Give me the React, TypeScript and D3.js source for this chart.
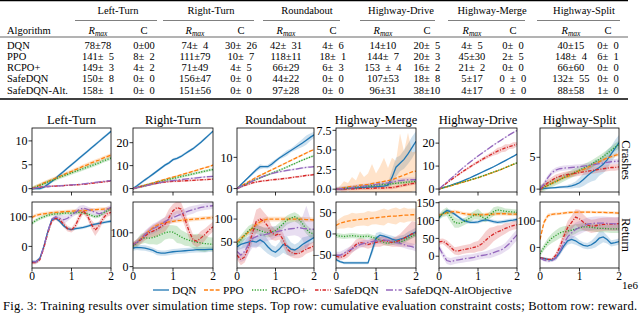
import React from 'react';
import * as d3 from 'd3';

// time axis (x 1e6 steps)
const steps = [0, 0.1, 0.2, 0.3, 0.4, 0.5, 0.6, 0.7, 0.8, 0.9, 1.0, 1.1, 1.2, 1.3, 1.4, 1.5, 1.6, 1.7, 1.8, 1.9, 2.0];

// ---- table data ----
const algorithms = ['DQN', 'PPO', 'RCPO+', 'SafeDQN', 'SafeDQN-Alt.'];
const tableEnvs = ['Left-Turn', 'Right-Turn', 'Roundabout', 'Highway-Drive', 'Highway-Merge', 'Highway-Split'];
const tableRows = [
  ['78±78', '0±00', '74± 4', '30± 26', '42± 31', '4± 6', '14±10', '20± 5', '4± 5', '0± 0', '40±15', '0± 0'],
  ['141± 5', '8± 2', '111±79', '10± 7', '118±11', '18± 1', '144± 7', '20± 3', '45±30', '2± 5', '148± 4', '6± 1'],
  ['149± 3', '4± 2', '71±49', '4± 5', '66±29', '6± 3', '153 ± 4', '16± 2', '21± 2', '0± 0', '66±60', '0± 0'],
  ['150± 8', '0± 0', '156±47', '0± 0', '44±22', '0± 0', '107±53', '18± 8', '5±17', '0 ± 0', '132± 55', '0± 0'],
  ['158± 1', '0± 0', '151±56', '0± 0', '97±28', '0± 0', '96±31', '38±10', '4±17', '0 ± 0', '88±58', '1± 0'],
];

// ---- plot data ----
const envNames = ['Left-Turn', 'Right-Turn', 'Roundabout', 'Highway-Merge', 'Highway-Drive', 'Highway-Split'];

const series = [
  { key: 'DQN', label: 'DQN', color: '#1f77b4', dash: undefined },
  { key: 'PPO', label: 'PPO', color: '#ff7f0e', dash: '4,1.8' },
  { key: 'RCPO', label: 'RCPO+', color: '#2ca02c', dash: '1.2,1.5' },
  { key: 'Safe', label: 'SafeDQN', color: '#d62728', dash: '3.5,1.5,1,1.5' },
  { key: 'Alt', label: 'SafeDQN-AltObjective', color: '#9467bd', dash: '7,2,1.5,2' },
];

// cumulative constraint costs (crashes)
const ltCost = {
  DQN: [0, 0, 0, 0.3, 0.9, 1.5, 2.2, 2.9, 3.6, 4.3, 5.0, 5.7, 6.4, 7.1, 7.8, 8.5, 9.2, 9.9, 10.6, 11.3, 12.0],
  PPO: [0, 0.4, 0.8, 1.2, 1.5, 1.9, 2.2, 2.6, 2.9, 3.3, 3.6, 4.0, 4.3, 4.7, 5.0, 5.4, 5.7, 6.0, 6.4, 6.7, 7.0],
  RCPO: [0, 0.35, 0.7, 1.0, 1.4, 1.7, 2.0, 2.4, 2.7, 3.0, 3.3, 3.6, 3.9, 4.2, 4.5, 4.8, 5.1, 5.4, 5.8, 6.1, 6.4],
  Safe: [0, 0.15, 0.3, 0.4, 0.45, 0.5, 0.55, 0.6, 0.65, 0.7, 0.75, 0.8, 0.85, 0.9, 1.0, 1.1, 1.2, 1.3, 1.4, 1.5, 1.6],
  Alt: [0, 0.15, 0.3, 0.4, 0.45, 0.5, 0.55, 0.6, 0.65, 0.7, 0.8, 0.85, 0.9, 1.0, 1.1, 1.2, 1.3, 1.4, 1.5, 1.6, 1.7],
};
const ltCostSd = { DQN: 0.3, PPO: 0.4, RCPO: 0.4, Safe: 0.15, Alt: 0.15 };

const rtCost = {
  DQN: [0, 1.2, 2.5, 3.8, 5.0, 6.3, 7.6, 8.9, 10.2, 11.2, 12.6, 13.2, 14.0, 15.2, 16.3, 17.4, 18.8, 20.2, 21.8, 23.4, 25.0],
  PPO: [0, 0.5, 1.0, 1.5, 2.0, 2.5, 3.0, 3.5, 4.0, 4.5, 5.0, 5.5, 6.0, 6.5, 7.0, 7.5, 8.0, 8.6, 9.1, 9.6, 10.2],
  RCPO: [0, 0.4, 0.9, 1.3, 1.8, 2.2, 2.7, 3.1, 3.6, 4.0, 4.4, 4.8, 5.2, 5.6, 6.0, 6.4, 6.8, 7.2, 7.6, 8.0, 8.3],
  Safe: [0, 0.4, 0.8, 1.2, 1.6, 2.0, 2.3, 2.6, 2.8, 3.0, 3.1, 3.2, 3.3, 3.4, 3.5, 3.6, 3.7, 3.8, 3.9, 4.0, 4.1],
  Alt: [0, 0.4, 0.8, 1.2, 1.6, 2.0, 2.4, 2.7, 3.0, 3.3, 3.5, 3.7, 3.9, 4.1, 4.3, 4.5, 4.7, 4.9, 5.1, 5.2, 5.3],
};
const rtCostSd = { DQN: 0.6, PPO: 0.4, RCPO: 0.6, Safe: 0.4, Alt: 0.4 };

const rbCost = {
  DQN: [0, 1.2, 2.4, 3.6, 4.8, 6.0, 7.0, 7.0, 7.0, 7.8, 8.8, 9.8, 10.6, 11.4, 12.2, 13.0, 13.8, 14.6, 15.5, 16.4, 17.2],
  PPO: [0, 0.8, 1.5, 2.2, 2.9, 3.6, 4.2, 4.8, 5.4, 6.0, 6.6, 7.2, 7.8, 8.4, 9.0, 9.6, 10.2, 10.8, 11.4, 12.0, 12.5],
  RCPO: [0, 0.6, 1.2, 1.8, 2.4, 2.9, 3.4, 3.9, 4.4, 4.9, 5.4, 5.9, 6.4, 6.9, 7.5, 8.0, 8.6, 9.1, 9.6, 10.1, 10.5],
  Safe: [0, 0.5, 1.0, 1.4, 1.8, 2.1, 2.3, 2.5, 2.6, 2.8, 2.9, 3.0, 3.2, 3.3, 3.5, 3.7, 3.8, 4.0, 4.2, 4.3, 4.5],
  Alt: [0, 0.6, 1.2, 1.8, 2.4, 3.0, 3.5, 4.0, 4.4, 4.8, 5.1, 5.4, 5.6, 5.8, 6.0, 6.2, 6.4, 6.6, 6.8, 6.9, 7.0],
};
const rbCostSd = {
  DQN: [0, 0.2, 0.3, 0.4, 0.5, 0.6, 0.8, 0.5, 0.6, 0.8, 0.6, 0.5, 0.7, 0.9, 0.6, 0.8, 1.0, 1.3, 1.5, 1.2, 1.0],
  PPO: 0.3, RCPO: 0.3, Safe: 0.3, Alt: 0.3,
};

const hmCost = {
  DQN: [0, 0, 0.05, 0.1, 0.1, 0.15, 0.2, 0.2, 0.25, 0.3, 0.3, 0.35, 0.4, 0.5, 1.5, 2.8, 3.3, 3.8, 4.5, 5.3, 6.1],
  PPO: [0, 0.1, 0.2, 0.3, 0.35, 0.4, 0.5, 0.55, 0.6, 0.7, 0.8, 0.9, 1.0, 1.1, 1.2, 1.4, 1.6, 1.8, 2.0, 2.2, 2.3],
  RCPO: [0, 0.05, 0.1, 0.15, 0.2, 0.25, 0.3, 0.35, 0.4, 0.45, 0.5, 0.55, 0.6, 0.65, 0.7, 0.75, 0.8, 0.85, 0.9, 0.95, 1.0],
  Safe: [0, 0, 0, 0.05, 0.05, 0.05, 0.1, 0.1, 0.1, 0.1, 0.15, 0.15, 0.15, 0.2, 0.2, 0.3, 0.4, 0.5, 0.6, 0.7, 0.8],
  Alt: [0, 0.05, 0.1, 0.15, 0.2, 0.3, 0.35, 0.4, 0.5, 0.55, 0.6, 0.7, 0.75, 0.8, 0.9, 1.0, 1.1, 1.15, 1.2, 1.2, 1.2],
};
const hmCostSd = {
  DQN: [0, 0, 0, 0.05, 0.05, 0.1, 0.1, 0.1, 0.1, 0.15, 0.15, 0.2, 0.2, 0.3, 1.0, 1.2, 1.0, 1.2, 1.3, 1.4, 1.3],
  PPO: [0, 0.3, 0.8, 0.5, 1.2, 0.7, 1.8, 1.0, 1.4, 2.5, 1.2, 2.0, 3.0, 1.6, 2.8, 2.2, 5.5, 3.0, 5.2, 2.5, 2.5],
  RCPO: 0.2, Safe: 0.2, Alt: 0.3,
};

const hdCost = {
  DQN: [0, 0.5, 1.0, 1.6, 2.2, 2.8, 3.5, 4.2, 4.9, 5.7, 6.5, 7.3, 8.1, 8.9, 9.7, 10.6, 11.5, 12.4, 13.3, 14.2, 15.2],
  PPO: [0, 0.45, 0.9, 1.4, 1.9, 2.4, 2.9, 3.4, 3.9, 4.4, 4.9, 5.5, 6.1, 6.7, 7.3, 7.9, 8.6, 9.3, 10.0, 10.7, 11.3],
  RCPO: [0, 0.5, 1.0, 1.5, 2.0, 2.5, 3.0, 3.5, 4.0, 4.5, 5.0, 5.6, 6.2, 6.8, 7.4, 8.0, 8.6, 9.3, 10.0, 10.7, 11.4],
  Safe: [0, 1.3, 2.6, 3.9, 5.1, 6.3, 7.5, 8.6, 9.7, 10.8, 11.8, 12.8, 13.8, 14.7, 15.6, 16.5, 17.2, 17.9, 18.5, 19.0, 19.5],
  Alt: [0, 1.5, 3.0, 4.5, 6.0, 7.5, 9.0, 10.4, 11.8, 13.1, 14.4, 15.6, 16.8, 18.0, 19.2, 20.3, 21.4, 22.5, 23.6, 24.6, 25.5],
};
const hdCostSd = {
  DQN: 0.3, PPO: 0.3, RCPO: 0.3, Alt: 0.3,
  Safe: [0, 0.2, 0.3, 0.4, 0.4, 0.5, 0.5, 0.5, 0.6, 0.6, 0.7, 0.7, 0.8, 0.9, 1.0, 1.5, 1.2, 1.6, 1.0, 1.4, 1.0],
};

const hsCost = {
  DQN: [0, 0.1, 0.15, 0.2, 0.25, 0.3, 0.35, 0.4, 0.5, 0.7, 1.0, 1.5, 2.1, 2.6, 3.0, 3.4, 3.9, 4.6, 5.5, 6.4, 7.3],
  PPO: [0, 0.3, 0.6, 0.9, 1.2, 1.5, 1.8, 2.0, 2.3, 2.6, 2.9, 3.1, 3.4, 3.7, 4.0, 4.3, 4.6, 4.9, 5.1, 5.3, 5.5],
  RCPO: [0, 0.3, 0.6, 0.9, 1.2, 1.5, 1.8, 2.1, 2.4, 2.7, 3.0, 3.3, 3.6, 3.9, 4.3, 4.7, 5.1, 5.6, 6.1, 6.6, 7.0],
  Safe: [0, 0.5, 1.0, 1.4, 1.8, 2.0, 2.2, 2.3, 2.4, 2.5, 2.6, 2.7, 2.8, 2.9, 3.0, 3.1, 3.2, 3.3, 3.4, 3.4, 3.5],
  Alt: [0, 0.8, 1.8, 2.6, 3.0, 3.2, 3.3, 3.35, 3.4, 3.45, 3.5, 3.6, 3.7, 3.8, 3.9, 4.0, 4.1, 4.2, 4.3, 4.35, 4.4],
};
const hsCostSd = {
  DQN: [0, 0.05, 0.1, 0.1, 0.15, 0.2, 0.2, 0.3, 0.4, 0.5, 0.8, 1.0, 1.2, 1.4, 1.6, 1.3, 1.4, 1.5, 1.2, 1.3, 1.2],
  PPO: 0.3, RCPO: 0.6, Safe: 0.5, Alt: 0.4,
};

// returns
const ltRet = {
  DQN: [-52, -52, -40, 0, 50, 90, 95, 85, 70, 60, 57, 60, 62, 64, 68, 72, 75, 78, 80, 83, 85],
  PPO: [98, 105, 108, 110, 112, 114, 115, 116, 117, 118, 119, 120, 120, 121, 122, 123, 124, 125, 126, 127, 128],
  RCPO: [78, 88, 95, 100, 105, 108, 110, 110, 112, 113, 112, 114, 115, 113, 110, 105, 100, 103, 112, 120, 127],
  Safe: [-55, -55, -45, -5, 45, 85, 95, 90, 75, 60, 55, 70, 100, 120, 105, 75, 55, 70, 95, 110, 115],
  Alt: [-52, -52, -42, 0, 50, 92, 100, 95, 90, 95, 105, 115, 125, 130, 125, 120, 115, 110, 115, 125, 132],
};
const ltRetSd = {
  DQN: 5, PPO: 6, RCPO: 6,
  Safe: [5, 5, 6, 8, 8, 6, 6, 10, 10, 10, 8, 12, 15, 10, 12, 15, 20, 15, 12, 10, 10],
  Alt: [5, 5, 6, 8, 8, 6, 8, 12, 15, 10, 8, 10, 12, 10, 10, 10, 12, 10, 10, 10, 8],
};

const rtRet = {
  DQN: [55, 57, 56, 55, 52, 48, 42, 40, 40, 42, 44, 45, 46, 47, 48, 49, 50, 50, 50, 51, 51],
  PPO: [65, 72, 82, 95, 105, 115, 122, 127, 130, 132, 134, 136, 137, 138, 139, 140, 141, 142, 143, 144, 145],
  RCPO: [60, 70, 82, 85, 84, 86, 90, 95, 100, 103, 102, 95, 88, 82, 78, 75, 72, 70, 68, 67, 66],
  Safe: [65, 72, 80, 90, 100, 105, 110, 118, 125, 145, 165, 175, 170, 140, 105, 80, 75, 85, 95, 108, 118],
  Alt: [65, 72, 82, 95, 105, 112, 118, 125, 133, 140, 145, 150, 155, 160, 165, 168, 172, 175, 177, 179, 180],
};
const rtRetSd = {
  DQN: 8, PPO: 6,
  RCPO: [10, 12, 15, 15, 18, 20, 25, 25, 20, 20, 20, 25, 20, 20, 18, 20, 25, 25, 25, 20, 20],
  Safe: [8, 10, 12, 12, 15, 18, 20, 20, 22, 25, 20, 18, 20, 22, 20, 15, 18, 20, 18, 15, 15],
  Alt: [8, 8, 10, 12, 12, 15, 15, 15, 12, 15, 15, 15, 12, 12, 12, 12, 10, 10, 10, 10, 10],
};

const rbRet = {
  DQN: [40, 45, 48, 50, 52, 50, 55, 50, 40, 32, 28, 35, 45, 42, 35, 33, 38, 45, 50, 55, 60],
  PPO: [50, 58, 65, 72, 80, 88, 94, 98, 100, 100, 100, 100, 100, 100, 100, 100, 100, 100, 99, 99, 98],
  RCPO: [45, 55, 65, 75, 80, 78, 75, 72, 70, 72, 75, 82, 90, 98, 102, 105, 100, 90, 78, 70, 68],
  Safe: [22, 12, 18, 40, 70, 95, 100, 95, 85, 70, 65, 68, 55, 35, 28, 25, 25, 30, 35, 38, 42],
  Alt: [30, 22, 30, 45, 58, 62, 65, 66, 68, 70, 72, 74, 76, 78, 79, 80, 82, 80, 79, 78, 78],
};
const rbRetSd = {
  DQN: [8, 10, 10, 12, 12, 10, 15, 18, 15, 12, 12, 15, 18, 20, 15, 12, 12, 15, 12, 10, 10],
  PPO: 5, RCPO: 10,
  Safe: [10, 12, 12, 15, 20, 25, 25, 20, 20, 15, 12, 12, 15, 12, 10, 10, 10, 12, 10, 10, 10],
  Alt: [15, 15, 20, 20, 20, 25, 20, 15, 15, 15, 12, 12, 15, 15, 15, 15, 20, 25, 50, 25, 15],
};

const hmRet = {
  DQN: [-60, -65, -68, -68, -68, -68, -68, -68, -68, -40, -10, -3, -5, -8, -12, -15, -12, -10, -5, 0, 5],
  PPO: [20, 25, 28, 30, 32, 33, 34, 35, 36, 37, 38, 39, 40, 41, 42, 42, 43, 44, 44, 45, 45],
  RCPO: [-3, -5, -6, -5, -4, -5, -6, -6, -5, -8, -10, -15, -20, -22, -20, -18, -20, -15, -10, -5, 0],
  Safe: [-52, -55, -52, -45, -35, -25, -20, -22, -25, -22, -20, -18, -15, -18, -20, -18, -15, -10, -5, 0, 3],
  Alt: [-50, -50, -45, -40, -35, -30, -25, -22, -20, -18, -16, -15, -14, -15, -17, -20, -22, -25, -28, -30, -33],
};
const hmRetSd = {
  DQN: [4, 3, 3, 3, 3, 3, 3, 3, 3, 10, 12, 8, 6, 6, 8, 8, 8, 8, 10, 10, 10],
  PPO: [10, 12, 15, 15, 18, 15, 15, 15, 18, 15, 15, 18, 20, 15, 18, 20, 15, 18, 15, 15, 15],
  RCPO: 6,
  Safe: [6, 6, 8, 10, 10, 12, 10, 10, 10, 10, 10, 12, 12, 10, 10, 12, 15, 20, 25, 30, 25],
  Alt: 8,
};

const hdRet = {
  DQN: [108, 120, 128, 125, 118, 110, 102, 98, 95, 95, 96, 100, 102, 100, 97, 95, 96, 98, 100, 101, 103],
  PPO: [115, 118, 122, 124, 125, 123, 120, 118, 117, 117, 116, 116, 117, 118, 118, 119, 119, 119, 118, 118, 118],
  RCPO: [110, 120, 125, 110, 95, 92, 95, 100, 108, 115, 118, 110, 105, 115, 125, 130, 128, 126, 125, 124, 123],
  Safe: [40, 42, 35, 25, 15, 15, 18, 20, 22, 25, 28, 35, 45, 55, 62, 68, 72, 78, 82, 86, 88],
  Alt: [25, 5, -12, -15, -12, -10, -8, -6, -5, -3, 0, 2, 4, 6, 10, 14, 18, 25, 35, 48, 60],
};
const hdRetSd = {
  DQN: 5, PPO: 5,
  RCPO: [8, 10, 12, 15, 15, 12, 10, 10, 12, 12, 15, 12, 10, 10, 12, 10, 10, 8, 8, 8, 8],
  Safe: [8, 8, 10, 10, 10, 12, 12, 12, 12, 15, 15, 20, 25, 25, 20, 18, 15, 15, 12, 12, 12],
  Alt: [10, 10, 10, 10, 10, 10, 10, 10, 10, 10, 10, 10, 10, 12, 12, 12, 12, 12, 15, 15, 15],
};

const hsRet = {
  DQN: [-40, -42, -45, -48, -40, -20, 5, 25, 30, 25, 15, 8, 5, 10, 20, 35, 40, 30, 15, 18, 22],
  PPO: [30, 95, 120, 125, 127, 128, 130, 132, 133, 133, 134, 134, 134, 134, 133, 133, 133, 132, 132, 131, 130],
  RCPO: [-25, 0, 20, 35, 45, 55, 60, 62, 65, 70, 75, 78, 78, 76, 74, 72, 72, 71, 70, 70, 70],
  Safe: [-40, -42, -45, -45, -30, 0, 40, 75, 95, 115, 108, 95, 85, 80, 82, 85, 87, 88, 88, 88, 90],
  Alt: [-40, -48, -52, -50, -40, -15, 15, 40, 55, 68, 75, 82, 88, 90, 92, 92, 92, 91, 90, 89, 88],
};
const hsRetSd = {
  DQN: [5, 5, 5, 5, 8, 10, 12, 15, 15, 15, 12, 12, 12, 15, 20, 25, 20, 15, 12, 12, 12],
  PPO: [5, 10, 8, 5, 5, 5, 5, 5, 5, 5, 5, 5, 5, 5, 5, 5, 5, 5, 5, 5, 5],
  RCPO: [10, 12, 15, 18, 20, 20, 20, 20, 20, 18, 15, 15, 15, 15, 15, 15, 15, 15, 15, 15, 15],
  Safe: [5, 5, 5, 5, 10, 15, 20, 25, 25, 30, 35, 30, 25, 25, 25, 25, 25, 25, 25, 25, 25],
  Alt: [5, 5, 5, 5, 10, 15, 20, 25, 25, 25, 25, 25, 25, 25, 25, 25, 25, 25, 25, 25, 25],
};

const costData = [ltCost, rtCost, rbCost, hmCost, hdCost, hsCost];
const costSd = [ltCostSd, rtCostSd, rbCostSd, hmCostSd, hdCostSd, hsCostSd];
const retData = [ltRet, rtRet, rbRet, hmRet, hdRet, hsRet];
const retSd = [ltRetSd, rtRetSd, rbRetSd, hmRetSd, hdRetSd, hsRetSd];

const costTicks = [[0, 5, 10], [0, 10, 20], [0, 10], [0, 2.5, 5, 7.5], [0, 10, 20], [0, 5]];
const retTicks = [[0, 100], [0, 100], [50, 100], [-50, 0, 50], [0, 50, 100, 150], [0, 100]];
const xTicks = [0, 1, 2];

// axis limits
const costDomains = [[-0.7, 12.7], [-1.5, 26.4], [-1.1, 19.4], [-0.36, 7.8], [-1.3, 26.6], [-0.45, 9.6]];
const retDomains = [[-73, 150], [-4, 191], [-6, 137], [-80, 75], [-33, 152], [-78, 172]];

// ---- layout ----
const W = 640;
const H = 314;
const FONT = '"Liberation Serif", "Times New Roman", "DejaVu Serif", serif';
const panelLeft = [32, 133, 237, 336, 439, 540];
const panelRight = [111, 213, 314, 416, 517, 619];
const costRow = [128, 192];
const retRow = [202, 268];

const colAlgX = 7;
const groupCenter = [118, 211, 307, 401, 492, 584];
const colCenters = [98, 144, 195, 241, 286, 333, 383, 427, 472, 513, 571, 608];
const groupRule = [[75, 157], [163, 254], [263, 340], [360, 435], [448, 525], [537, 620]];
const rowBase = [48.5, 59.8, 71.1, 82.4, 93.7];

const legendX = [153, 204, 252, 315, 386];

const sdAt = (s: number | number[], j: number) => (typeof s === 'number' ? s : s[j]);
const fmtNum = (v: number, dec: boolean) => (dec ? d3.format('.1f')(v) : d3.format('d')(v));

function Panel({ id, left, right, top, bottom, domain, ticks, data, sd, labels, decimals }: any) {
  const x = d3.scaleLinear().domain([0, 2]).range([left, right]);
  const y = d3.scaleLinear().domain(domain).range([bottom, top]);
  const line = d3.line<number>().x((_, j) => x(steps[j])).y((v) => y(v));
  return (
    <g>
      <defs>
        <clipPath id={id}>
          <rect x={left} y={top} width={right - left} height={bottom - top} />
        </clipPath>
      </defs>
      <g clipPath={`url(#${id})`}>
        {series.map((s) => {
          const m = data[s.key];
          const e = sd[s.key];
          const area = d3.area<number>()
            .x((_, j) => x(steps[j]))
            .y0((v, j) => y(v - sdAt(e, j)))
            .y1((v, j) => y(v + sdAt(e, j)));
          return <path key={'b' + s.key} d={area(m) || ''} fill={s.color} opacity={0.22} stroke="none" />;
        })}
        {series.map((s) => (
          <path key={'l' + s.key} d={line(data[s.key]) || ''} fill="none" stroke={s.color}
            strokeWidth={1.3} strokeDasharray={s.dash} />
        ))}
      </g>
      <rect x={left} y={top} width={right - left} height={bottom - top} fill="none" stroke="#000" strokeWidth={0.8} />
      {ticks.map((t: number) => (
        <g key={'y' + t}>
          <line x1={left - 3.5} x2={left} y1={y(t)} y2={y(t)} stroke="#000" strokeWidth={0.8} />
          <text x={left - 4.5} y={y(t)} dy="0.35em" textAnchor="end" fontSize={12}>{fmtNum(t, decimals)}</text>
        </g>
      ))}
      {xTicks.map((t) => (
        <g key={'x' + t}>
          <line x1={x(t)} x2={x(t)} y1={bottom} y2={bottom + 3.5} stroke="#000" strokeWidth={0.8} />
          {labels && <text x={x(t)} y={bottom + 11.5} textAnchor="middle" fontSize={11.5}>{t}</text>}
        </g>
      ))}
    </g>
  );
}

function Table() {
  return (
    <g fontSize={10.5}>
      <line x1={0} x2={628} y1={0.7} y2={0.7} stroke="#000" strokeWidth={1.3} />
      {tableEnvs.map((e, i) => (
        <g key={e}>
          <text x={groupCenter[i]} y={14.3} textAnchor="middle">{e}</text>
          <line x1={groupRule[i][0]} x2={groupRule[i][1]} y1={20.5} y2={20.5} stroke="#000" strokeWidth={0.5} />
          <text x={colCenters[i * 2]} y={33.5} textAnchor="middle" fontStyle="italic">
            R<tspan fontSize={7.5} dy={2}>max</tspan>
          </text>
          <text x={colCenters[i * 2 + 1]} y={33.5} textAnchor="middle">C</text>
        </g>
      ))}
      <text x={colAlgX} y={33.5}>Algorithm</text>
      <line x1={0} x2={628} y1={37} y2={37} stroke="#000" strokeWidth={0.6} />
      {algorithms.map((a, r) => (
        <g key={a}>
          <text x={colAlgX} y={rowBase[r]}>{a}</text>
          {tableRows[r].map((v, c) => (
            <text key={c} x={colCenters[c]} y={rowBase[r]} textAnchor="middle">{v.replace(/ /g, '\u2007')}</text>
          ))}
        </g>
      ))}
      <line x1={0} x2={628} y1={99} y2={99} stroke="#000" strokeWidth={1.3} />
    </g>
  );
}

export default function App() {
  return (
    <svg width={W} height={H} style={{ position: 'absolute', left: 0, top: 0, background: '#fff', fontFamily: FONT }}
      fill="#000">
      <rect width={W} height={H} fill="#fff" />
      <Table />
      {envNames.map((name, i) => (
        <g key={name}>
          <text x={(panelLeft[i] + panelRight[i]) / 2} y={124} textAnchor="middle" fontSize={12.5}>{name}</text>
          <Panel id={'c' + i} left={panelLeft[i]} right={panelRight[i]} top={costRow[0]} bottom={costRow[1]}
            domain={costDomains[i]} ticks={costTicks[i]} data={costData[i]} sd={costSd[i]}
            labels={false} decimals={i === 3} />
          <Panel id={'r' + i} left={panelLeft[i]} right={panelRight[i]} top={retRow[0]} bottom={retRow[1]}
            domain={retDomains[i]} ticks={retTicks[i]} data={retData[i]} sd={retSd[i]}
            labels={true} decimals={false} />
        </g>
      ))}
      <text transform={`translate(622,${(costRow[0] + costRow[1]) / 2}) rotate(90)`} textAnchor="middle" fontSize={12.5}>Crashes</text>
      <text transform={`translate(622,${(retRow[0] + retRow[1]) / 2}) rotate(90)`} textAnchor="middle" fontSize={12.5}>Return</text>
      <text x={622} y={288.5} fontSize={11}>1e6</text>
      {series.map((s, i) => (
        <g key={s.key}>
          <line x1={legendX[i]} x2={legendX[i] + 16} y1={290} y2={290} stroke={s.color} strokeWidth={1.3}
            strokeDasharray={s.dash} />
          <text x={legendX[i] + 19} y={294} fontSize={11.3}>{s.label}</text>
        </g>
      ))}
      <text x={3} y={310} fontSize={12.5} textLength={634} lengthAdjust="spacing">
        Fig. 3: Training results over simulation time steps. Top row: cumulative evaluation constraint costs; Bottom row: reward.
      </text>
    </svg>
  );
}
